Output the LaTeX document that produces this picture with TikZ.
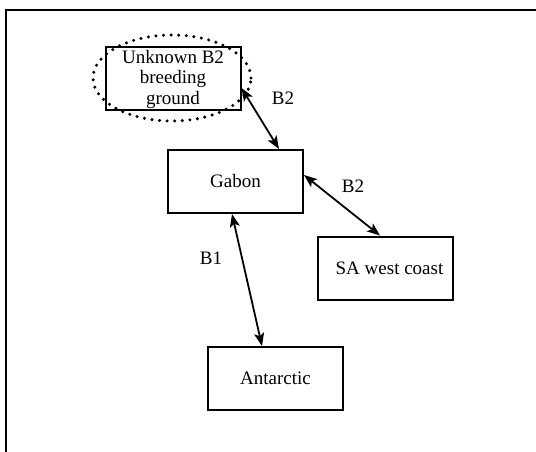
\documentclass[tikz,border=0pt]{standalone}
\usepackage{fontspec}
\setmainfont{Liberation Serif}
\usetikzlibrary{arrows.meta,calc,positioning}
\tikzset{
  place/.style={draw, line width=2pt, minimum width=135pt, minimum height=63pt, inner sep=0pt, align=center, font=\fontsize{19}{20.5}\selectfont},
  route/.style={line width=1.8pt, {Stealth[length=13pt,width=10pt,inset=3pt]}-{Stealth[length=13pt,width=10pt,inset=3pt]}},
  lbl/.style={font=\fontsize{19}{20.5}\selectfont}
}

\begin{document}
\begin{tikzpicture}[x=1pt,y=-1pt]
\useasboundingbox (0,0) rectangle (536,452);
\draw[line width=1.2pt] (6,452)--(6,10)--(536,10);
\node (un) [place] at (173,79) {Unknown B2\\breeding\\ground};
\node (gab) [place] at (235.5,181.5) {Gabon};
\node (sa) [place] at (385.5,268) {\hspace*{8pt}SA west coast};
\node (ant) [place] at (275.5,378.5) {Antarctic};
\draw[line width=3.4pt, line cap=round, dash pattern=on 0pt off 7.6pt] (172,78) ellipse [x radius=79pt, y radius=43pt];
\node (b2a) [lbl] at (283,98) {B2};
\node (b2b) [lbl] at (353,186) {B2};
\node (b1) [lbl] at (211,258) {B1};
\draw[route] ($(un.east)+(0,9)$)--($(gab.north)+(43.5,0)$);
\draw[route] ($(gab.east)+(0,-6.5)$)--($(sa.north)+(-5.5,0)$);
\draw[route] ($(gab.south)+(-3.5,0)$)--($(ant.north)+(-13.5,0)$);
\end{tikzpicture}
\end{document}
